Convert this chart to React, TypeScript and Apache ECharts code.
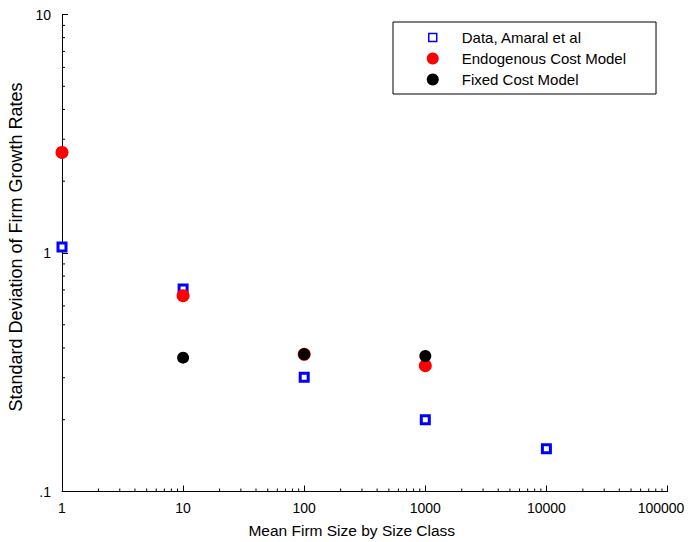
import React, { useEffect, useRef } from "react";
import * as echarts from "echarts";

const sizes = [1, 10, 100, 1000, 10000];
const dataAmaral = [1.06, 0.706, 0.301, 0.2, 0.151];
const endogenous = [2.64, 0.662, 0.376, 0.337];
const fixedCost = [null, 0.364, 0.376, 0.37];
const xMinorDecades = [1, 10, 100, 1000, 10000];
const yMinorDecades = [0.1, 1];
const minorMultipliers = [2, 3, 4, 5, 6, 7, 8, 9];

const FONT = "Liberation Sans, Arial, sans-serif";

export default function App() {
  const ref = useRef<HTMLDivElement>(null);
  useEffect(() => {
    document.body.style.margin = "0";
    const chart = echarts.init(ref.current!, null, { renderer: "svg" });
    const pairs = (ys: (number | null)[]) =>
      ys.map((y, i) => (y == null ? null : [sizes[i], y])).filter((d) => d) as number[][];
    const xMinor: number[][] = [];
    xMinorDecades.forEach((d) => minorMultipliers.forEach((m) => xMinor.push([d * m, 0.1])));
    const yMinor: number[][] = [];
    yMinorDecades.forEach((d) => minorMultipliers.forEach((m) => yMinor.push([1, d * m])));

    chart.setOption({
      animation: false,
      backgroundColor: "#fff",
      grid: {
        left: 62,
        right: 21.5,
        top: 14.5,
        bottom: 50.5,
        containLabel: false,
        outerBoundsMode: "none",
      },
      legend: {
        orient: "vertical",
        left: 393,
        top: 22,
        padding: [8, 30, 7, 33],
        itemWidth: 12,
        itemHeight: 12,
        itemGap: 6,
        borderColor: "#000",
        borderWidth: 1,
        backgroundColor: "#fff",
        textStyle: { fontFamily: FONT, fontSize: 15, color: "#000", padding: [0, 0, 0, 18] },
        data: [
          {
            name: "Data, Amaral et al",
            icon: "path://M0,0L0.01,0M12,12L12.01,12M2,2H10V10H2Z",
            itemStyle: { color: "#fff", borderColor: "#0000ff", borderWidth: 1.5, opacity: 1 },
          },
          { name: "Endogenous Cost Model", icon: "circle" },
          { name: "Fixed Cost Model", icon: "circle" },
        ],
      },
      xAxis: {
        type: "log",
        logBase: 10,
        min: 1,
        max: 100000,
        name: "Mean Firm Size by Size Class",
        nameLocation: "middle",
        nameGap: 31,
        nameTextStyle: { fontFamily: FONT, fontSize: 15.5, color: "#000", padding: [0, 26, 0, 0] },
        axisLine: { show: true, lineStyle: { color: "#000", width: 1 } },
        axisTick: { show: true, inside: true, length: 6, lineStyle: { color: "#000" } },
        axisLabel: {
          fontFamily: FONT,
          fontSize: 14,
          color: "#000",
          margin: 9,
          formatter: (v: number) => {
            const r = Math.round(v);
            return r >= 100000 ? "{last|" + r + "}" : String(r);
          },
          rich: {
            last: { fontFamily: FONT, fontSize: 14, color: "#000", padding: [0, 13, 0, 0] },
          },
        },
        splitLine: { show: false },
      },
      yAxis: {
        type: "log",
        logBase: 10,
        min: 0.1,
        max: 10,
        name: "Standard Deviation of Firm Growth Rates",
        nameLocation: "middle",
        nameGap: 33,
        nameTextStyle: { fontFamily: FONT, fontSize: 18, color: "#000", padding: [0, 0, 0, 12] },
        axisLine: { show: true, lineStyle: { color: "#000", width: 1 } },
        axisTick: { show: true, inside: true, length: 6, lineStyle: { color: "#000" } },
        axisLabel: {
          fontFamily: FONT,
          fontSize: 14,
          color: "#000",
          margin: 11,
          formatter: (v: number) => (v < 0.5 ? ".1" : String(Math.round(v))),
        },
        splitLine: { show: false },
      },
      series: [
        {
          name: "Data, Amaral et al",
          type: "scatter",
          symbol: "rect",
          symbolSize: 8,
          itemStyle: { color: "#fff", borderColor: "#0000ff", borderWidth: 3, opacity: 1 },
          data: pairs(dataAmaral),
          z: 2,
        },
        {
          name: "Endogenous Cost Model",
          type: "scatter",
          symbol: "circle",
          symbolSize: 13,
          itemStyle: { color: "#ff0000", opacity: 1 },
          data: pairs(endogenous),
          z: 3,
        },
        {
          name: "Fixed Cost Model",
          type: "scatter",
          symbol: "circle",
          symbolSize: 12,
          itemStyle: { color: "#000000", opacity: 1 },
          data: pairs(fixedCost),
          z: 4,
        },
        {
          name: "xMinor",
          type: "custom",
          silent: true,
          clip: false,
          data: xMinor,
          renderItem: (_p: any, api: any) => {
            const c = api.coord([api.value(0), api.value(1)]);
            return {
              type: "line",
              shape: { x1: c[0], y1: c[1], x2: c[0], y2: c[1] - 3 },
              style: { stroke: "#000", lineWidth: 1 },
            };
          },
          z: 1,
        },
        {
          name: "yMinor",
          type: "custom",
          silent: true,
          clip: false,
          data: yMinor,
          renderItem: (_p: any, api: any) => {
            const c = api.coord([api.value(0), api.value(1)]);
            return {
              type: "line",
              shape: { x1: c[0], y1: c[1], x2: c[0] + 3, y2: c[1] },
              style: { stroke: "#000", lineWidth: 1 },
            };
          },
          z: 1,
        },
      ],
    });
    return () => chart.dispose();
  }, []);
  return <div ref={ref} style={{ width: 689, height: 542 }} />;
}
